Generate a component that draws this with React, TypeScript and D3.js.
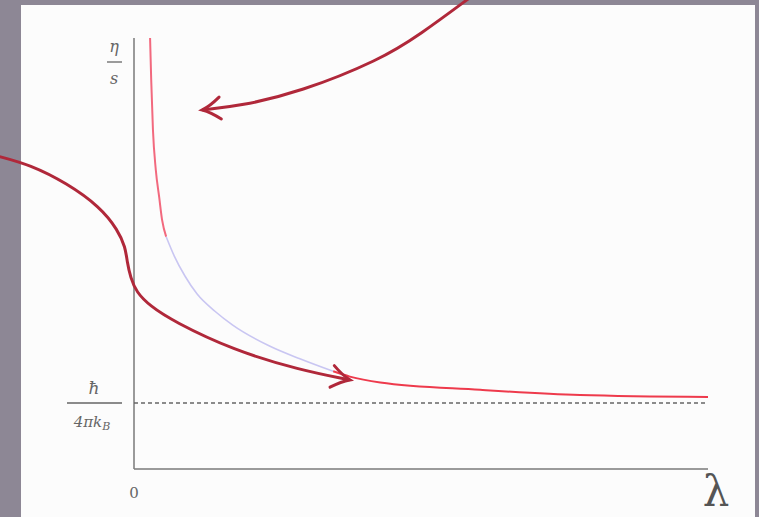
import React from 'react';
import * as d3 from 'd3';

// η/s against λ, in units of the bound ħ/4πk_B
const upperLambda = [0.28, 0.3, 0.33, 0.38, 0.44, 0.49, 0.56];
const upperRatio = [6.53, 5.89, 5.14, 4.53, 4.11, 3.77, 3.52];
const middleLambda = [0.56, 0.7, 0.89, 1.1, 1.41, 1.72, 2.37, 2.89, 3.47];
const middleRatio = [3.52, 3.23, 2.92, 2.65, 2.39, 2.18, 1.86, 1.67, 1.48];
const lowerLambda = [3.47, 3.76, 4.29, 6.03, 7.77, 10];
const lowerRatio = [1.48, 1.4, 1.31, 1.2, 1.12, 1.09];
const bound = 1;

// hand-drawn annotation arrows (same data coordinates)
const arrowOneLambda = [5.85, 4.98, 4.29, 2.89, 1.85, 1.19];
const arrowOneRatio = [7.14, 6.58, 6.2, 5.71, 5.5, 5.44];
const arrowTwoLambda = [-2.37, -1.81, -1.17, -0.59, -0.28, -0.15, -0.12, -0.06, 0.04, 0.28, 0.68, 1.73, 2.89, 3.76];
const arrowTwoRatio = [4.74, 4.61, 4.33, 3.97, 3.62, 3.36, 3.14, 2.9, 2.68, 2.47, 2.24, 1.8, 1.5, 1.35];

const W = 759;
const H = 517;

const App = () => {
  const x = d3.scaleLinear().domain([0, 10]).range([134, 708]);
  const y = d3.scaleLinear().domain([0, 6.53]).range([469, 38]);

  const line = d3.line<number[]>()
    .x(d => x(d[0]))
    .y(d => y(d[1]))
    .curve(d3.curveMonotoneX);

  const arrowLine = d3.line<number[]>()
    .x(d => x(d[0]))
    .y(d => y(d[1]))
    .curve(d3.curveBasis);

  const pts = (xs: number[], ys: number[]) => xs.map((v, i) => [v, ys[i]]);

  const serif = '"DejaVu Serif", "Liberation Serif", serif';
  const axisGrey = '#7a7a7a';
  const arrowRed = '#b0283a';

  return (
    <div>
      <style>{'body{margin:0}'}</style>
      <svg width={W} height={H} style={{ display: 'block' }}>
        <defs>
          <marker id="head" markerUnits="userSpaceOnUse" markerWidth="30" markerHeight="30"
            viewBox="-20 -15 30 30" refX="0" refY="0" orient="auto">
            <path d="M-18,-11 Q-8,-3 0,0 Q-8,3 -18,11" fill="none" stroke={arrowRed} strokeWidth={3} strokeLinecap="round" />
          </marker>
        </defs>
        <rect x={0} y={0} width={W} height={H} fill="#8d8795" />
        <rect x={21} y={5} width={734} height={H - 5} fill="#fcfcfc" />

        {/* axes */}
        <line x1={x(0)} x2={x(0)} y1={y(6.53)} y2={y(0)} stroke={axisGrey} strokeWidth={1.5} />
        <line x1={x(0)} x2={x(10)} y1={y(0)} y2={y(0)} stroke={axisGrey} strokeWidth={1.5} />
        <line x1={x(0)} x2={x(10)} y1={y(bound)} y2={y(bound)} stroke="#666" strokeWidth={1.3} strokeDasharray="4,3" />

        {/* curve */}
        <path d={line(pts(middleLambda, middleRatio)) || ''} fill="none" stroke="#c9c6f2" strokeWidth={1.6} />
        <path d={line(pts(upperLambda, upperRatio)) || ''} fill="none" stroke="#f2697e" strokeWidth={2} />
        <path d={line(pts(lowerLambda, lowerRatio)) || ''} fill="none" stroke="#ee3a4c" strokeWidth={2} />

        {/* arrows */}
        <path d={arrowLine(pts(arrowOneLambda, arrowOneRatio)) || ''} fill="none" stroke={arrowRed} strokeWidth={3} markerEnd="url(#head)" />
        <path d={arrowLine(pts(arrowTwoLambda, arrowTwoRatio)) || ''} fill="none" stroke={arrowRed} strokeWidth={3} markerEnd="url(#head)" />

        {/* labels */}
        <g fill="#666" fontFamily={serif} textAnchor="middle">
          <text x={114} y={52} fontSize={16} fontStyle="italic">η</text>
          <line x1={107} x2={122} y1={62} y2={62} stroke="#666" strokeWidth={1.3} />
          <text x={114} y={84} fontSize={16} fontStyle="italic">s</text>

          <text x={94} y={394} fontSize={17} fontStyle="italic">ħ</text>
          <line x1={67} x2={122} y1={y(bound)} y2={y(bound)} stroke="#666" strokeWidth={1.3} />
          <text x={92} y={427} fontSize={15} fontStyle="italic">4πk<tspan fontSize={11} dy={3}>B</tspan></text>

          <text x={x(0)} y={498} fontSize={15}>0</text>
          <text x={716} y={506} fontSize={42} fill="#555">λ</text>
        </g>
      </svg>
    </div>
  );
};

export default App;
